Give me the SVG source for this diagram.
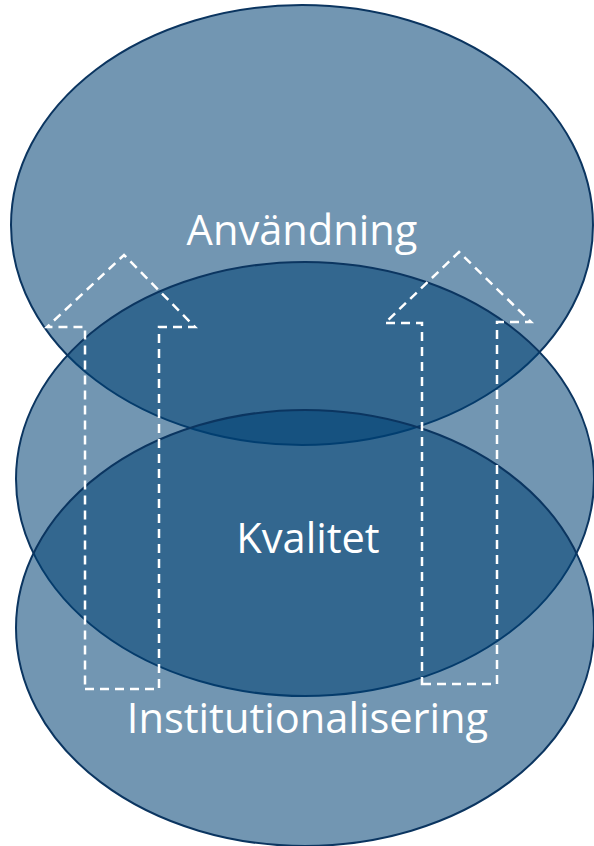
<svg xmlns="http://www.w3.org/2000/svg" width="594" height="846" viewBox="0 0 594 846">
<style>
.ell{fill:rgb(0,65,116);fill-opacity:0.553;stroke:#0b3560;stroke-width:2}
.lbl{font-family:"Open Sans","Liberation Sans",sans-serif;font-size:41.6px;fill:#ffffff;text-anchor:middle}
.arr{fill:none;stroke:#ffffff;stroke-width:2.5;stroke-dasharray:9 6;stroke-linejoin:miter}
</style>
<rect width="594" height="846" fill="#ffffff"/>
<g id="node-anvandning">
<ellipse class="ell" cx="302" cy="225" rx="291" ry="220"/>
</g>
<g id="node-kvalitet">
<ellipse class="ell" cx="305" cy="479" rx="289" ry="217"/>
</g>
<g id="node-institutionalisering">
<ellipse class="ell" cx="305" cy="628" rx="289" ry="218"/>
</g>
<g id="labels">
<text class="lbl" x="302" y="245">Användning</text>
<text class="lbl" x="308" y="553">Kvalitet</text>
<text class="lbl" x="307.5" y="733">Institutionalisering</text>
</g>
<g id="connectors">
<polygon class="arr" points="85,689 159,689 159,327 195,327 124,255 47,327 85,327"/>
<polygon class="arr" points="422,684 497,684 497,322 531,322 459,252 385,323 422,323"/>
</g>
</svg>
